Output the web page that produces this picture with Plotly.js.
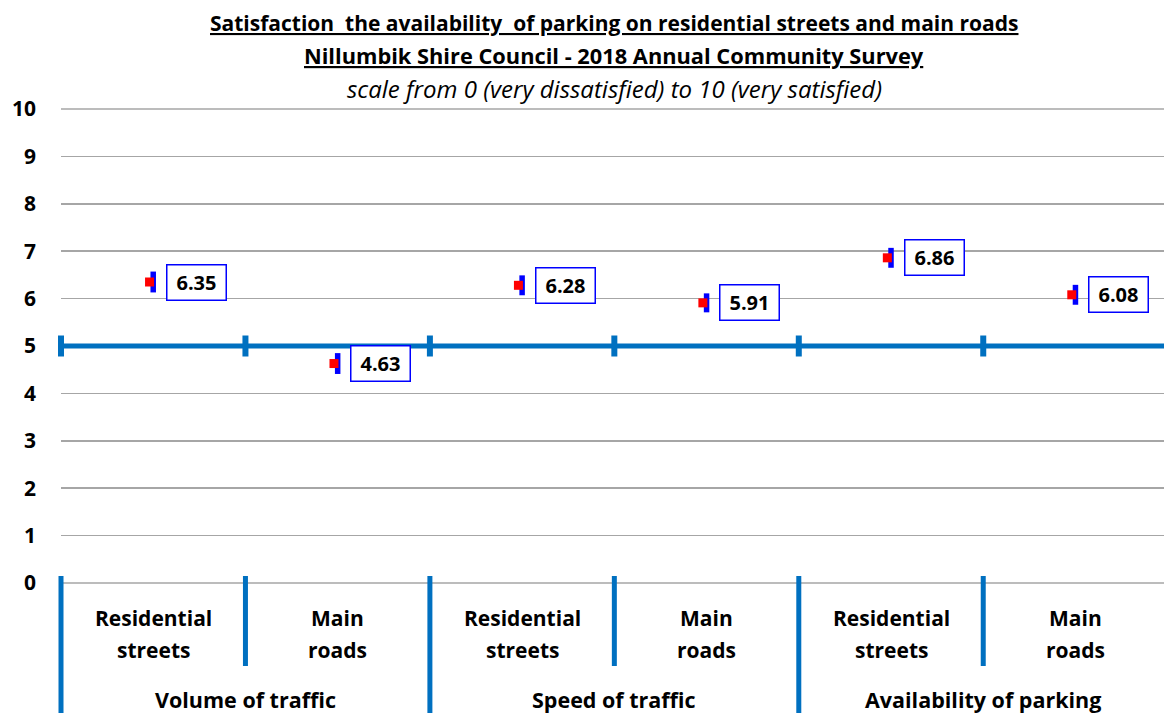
<!DOCTYPE html>
<html>
<head>
<meta charset="utf-8">
<script src="https://cdn.plot.ly/plotly-3.0.1.min.js"></script>
<style>html,body{margin:0;padding:0;background:#fff;}#chart{width:1164px;height:713px;}</style>
</head>
<body>
<div id="chart"></div>
<script>
// ---- data ----
const subCategories = ['Residential<br>streets', 'Main<br>roads', 'Residential<br>streets', 'Main<br>roads', 'Residential<br>streets', 'Main<br>roads'];
const groupLabels = ['Volume of traffic', 'Speed of traffic', 'Availability of parking'];
const groupSizes = [2, 2, 2];
const meanScores = [6.35, 4.63, 6.28, 5.91, 6.86, 6.08];
const ciHalfWidth = [0.22, 0.22, 0.21, 0.20, 0.21, 0.21];
const referenceValue = 5;
const yTickValues = [0, 1, 2, 3, 4, 5, 6, 7, 8, 9, 10];
const titleLines = [
  '<u>Satisfaction  the availability  of parking on residential streets and main roads</u>',
  '<u>Nillumbik Shire Council - 2018 Annual Community Survey</u>',
  '<i>scale from 0 (very dissatisfied) to 10 (very satisfied)</i>'
];

// ---- layout constants ----
const W = 1164, H = 713;
const M = {l: 61, r: 0, t: 108, b: 129};
const yRange = [-0.02, 10.02];
const plotH = H - M.t - M.b;
const xRange = [-0.5, 5.48];
const FONT = '"Open Sans", "Noto Sans", sans-serif';
const BLUE = '#0070C0';
const GRID = '#A6A6A6';

const idx = meanScores.map((_, i) => i);
const boundaries = [];
for (let i = 0; i <= subCategories.length; i++) boundaries.push(i - 0.5);

const toPaperX = v => (v - xRange[0]) / (xRange[1] - xRange[0]);
const pxToPaperY = py => (H - M.b - py) / plotH;
const plotBottomPx = H - M.b;

const traces = [
  { // reference line at 5 with boundary ticks
    x: boundaries, y: boundaries.map(() => referenceValue),
    type: 'scatter', mode: 'lines+markers', cliponaxis: false,
    line: {color: BLUE, width: 5},
    marker: {symbol: 'line-ns', size: 15, color: BLUE, line: {color: BLUE, width: 6}},
    hoverinfo: 'skip', showlegend: false
  },
  { // confidence interval bars
    x: idx, y: meanScores, type: 'scatter', mode: 'markers',
    marker: {size: 1, opacity: 0},
    error_y: {type: 'data', array: ciHalfWidth, visible: true, color: '#0000FF', thickness: 5.5, width: 0},
    hoverinfo: 'skip', showlegend: false
  },
  { // mean markers
    x: idx.map(i => i - 0.02), y: meanScores, type: 'scatter', mode: 'markers',
    marker: {symbol: 'square', size: 9, color: '#FF0000', line: {width: 0}},
    showlegend: false
  }
];

const annotations = [];
// value labels
meanScores.forEach((v, i) => {
  annotations.push({
    x: i, y: v, xref: 'x', yref: 'y', xshift: 43, showarrow: false,
    text: v.toFixed(2), font: {family: FONT, size: 20, color: '#000', weight: 'bold'},
    bordercolor: '#0000FF', borderwidth: 1.5, borderpad: 3, bgcolor: '#fff',
    width: 52, height: 28
  });
});
// title lines
const titleCenters = [23, 55, 88];
const titleSizes = [21, 21.8, 24];
titleLines.forEach((t, k) => {
  annotations.push({
    x: (subCategories.length - 1) / 2, xref: 'x', y: 1, yref: 'paper', yanchor: 'middle',
    yshift: M.t - titleCenters[k], showarrow: false, text: t,
    font: {family: FONT, size: titleSizes[k], color: '#000', weight: k < 2 ? 'bold' : 'normal'}
  });
});
// sub-category labels (two lines each)
subCategories.forEach((lab, i) => {
  lab.split('<br>').forEach((part, k) => {
    annotations.push({
      x: i, xref: 'x', y: 0, yref: 'paper', yanchor: 'middle',
      yshift: -((618 + 32 * k) - plotBottomPx), showarrow: false, text: part,
      font: {family: FONT, size: 21, color: '#000', weight: 'bold'}
    });
  });
});
// group labels
let start = 0;
const groupStarts = [];
groupLabels.forEach((g, j) => {
  groupStarts.push(start);
  annotations.push({
    x: start + (groupSizes[j] - 1) / 2, xref: 'x', y: 0, yref: 'paper', yanchor: 'middle',
    yshift: -(699 - plotBottomPx), showarrow: false, text: g,
    font: {family: FONT, size: 21.5, color: '#000', weight: 'bold'}
  });
  start += groupSizes[j];
});
groupStarts.push(start);

const shapes = [];
// edge gridlines (Plotly omits gridlines at the range ends)
[yTickValues[0], yTickValues[yTickValues.length - 1]].forEach(v => {
  shapes.push({type: 'line', xref: 'paper', yref: 'y', x0: 0, x1: 1, y0: v, y1: v,
    layer: 'below', line: {color: GRID, width: 1.5}});
});
// divider shapes
boundaries.forEach((b, i) => {
  const isGroup = groupStarts.includes(i);
  shapes.push({
    type: 'line', xref: 'paper', yref: 'paper',
    x0: toPaperX(b), x1: toPaperX(b),
    y0: pxToPaperY(576), y1: pxToPaperY(isGroup ? 713 : 666),
    line: {color: BLUE, width: 5}
  });
});

const layout = {
  width: W, height: H, margin: M,
  paper_bgcolor: '#fff', plot_bgcolor: '#fff',
  showlegend: false,
  xaxis: {range: xRange, showgrid: false, zeroline: false, showticklabels: false, showline: false, fixedrange: true},
  yaxis: {range: yRange, tickvals: yTickValues, ticktext: yTickValues.map(String),
    showgrid: true, gridcolor: GRID, gridwidth: 1.5, zeroline: false, showline: false,
    ticks: '', ticklabelstandoff: 24,
    tickfont: {family: FONT, size: 21, color: '#000', weight: 'bold'}, fixedrange: true},
  annotations: annotations,
  shapes: shapes
};

Plotly.newPlot('chart', traces, layout, {displayModeBar: false, staticPlot: true});
</script>
</body>
</html>
